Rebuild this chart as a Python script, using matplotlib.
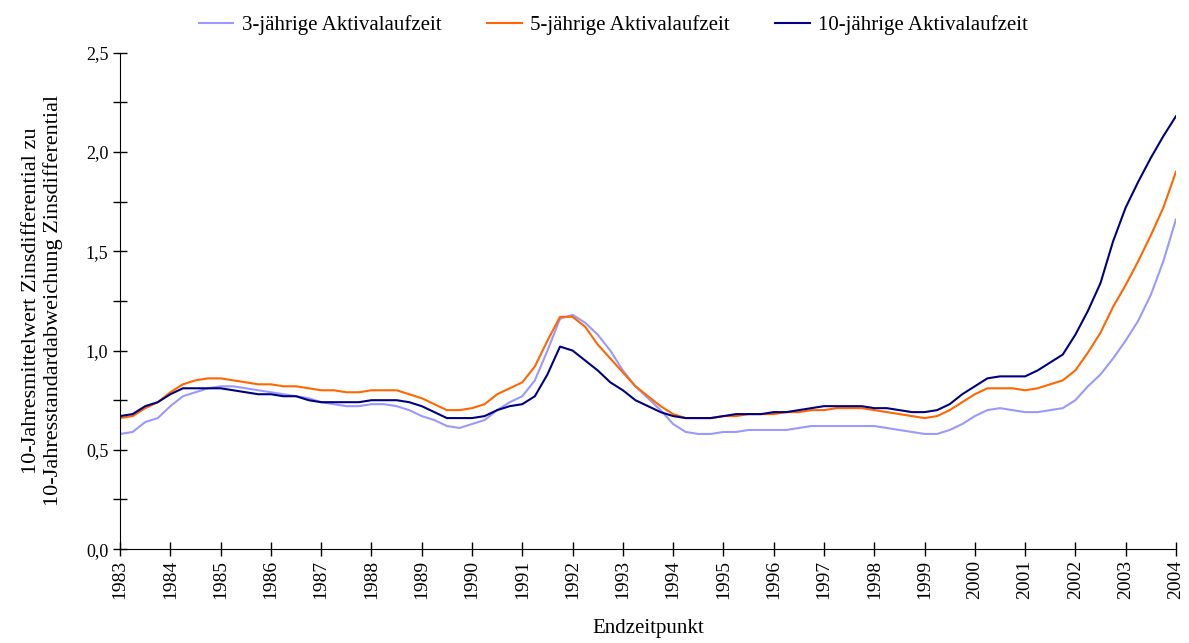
import numpy as np
import matplotlib.pyplot as plt
from matplotlib.ticker import MultipleLocator, FuncFormatter

plt.rcParams['font.family'] = ['Liberation Serif', 'DejaVu Serif']

# quarterly end points 1983.0 .. 2004.0
years = np.arange(1983, 2004.01, 0.25)

laufzeit_3 = [0.58, 0.59, 0.64, 0.66, 0.72, 0.77, 0.79, 0.81, 0.82, 0.82, 0.81, 0.80,
              0.79, 0.78, 0.77, 0.76, 0.74, 0.73, 0.72, 0.72, 0.73, 0.73, 0.72, 0.70,
              0.67, 0.65, 0.62, 0.61, 0.63, 0.65, 0.70, 0.74, 0.77, 0.85, 1.00, 1.16,
              1.18, 1.14, 1.08, 1.00, 0.90, 0.82, 0.76, 0.70, 0.63, 0.59, 0.58, 0.58,
              0.59, 0.59, 0.60, 0.60, 0.60, 0.60, 0.61, 0.62, 0.62, 0.62, 0.62, 0.62,
              0.62, 0.61, 0.60, 0.59, 0.58, 0.58, 0.60, 0.63, 0.67, 0.70, 0.71, 0.70,
              0.69, 0.69, 0.70, 0.71, 0.75, 0.82, 0.88, 0.96, 1.05, 1.15, 1.28, 1.45,
              1.66]

laufzeit_5 = [0.66, 0.67, 0.71, 0.74, 0.79, 0.83, 0.85, 0.86, 0.86, 0.85, 0.84, 0.83,
              0.83, 0.82, 0.82, 0.81, 0.80, 0.80, 0.79, 0.79, 0.80, 0.80, 0.80, 0.78,
              0.76, 0.73, 0.70, 0.70, 0.71, 0.73, 0.78, 0.81, 0.84, 0.92, 1.05, 1.17,
              1.17, 1.12, 1.03, 0.96, 0.89, 0.82, 0.77, 0.72, 0.68, 0.66, 0.66, 0.66,
              0.67, 0.67, 0.68, 0.68, 0.68, 0.69, 0.69, 0.70, 0.70, 0.71, 0.71, 0.71,
              0.70, 0.69, 0.68, 0.67, 0.66, 0.67, 0.70, 0.74, 0.78, 0.81, 0.81, 0.81,
              0.80, 0.81, 0.83, 0.85, 0.90, 0.99, 1.09, 1.22, 1.33, 1.45, 1.58, 1.72,
              1.90]

laufzeit_10 = [0.67, 0.68, 0.72, 0.74, 0.78, 0.81, 0.81, 0.81, 0.81, 0.80, 0.79, 0.78,
               0.78, 0.77, 0.77, 0.75, 0.74, 0.74, 0.74, 0.74, 0.75, 0.75, 0.75, 0.74,
               0.72, 0.69, 0.66, 0.66, 0.66, 0.67, 0.70, 0.72, 0.73, 0.77, 0.88, 1.02,
               1.00, 0.95, 0.90, 0.84, 0.80, 0.75, 0.72, 0.69, 0.67, 0.66, 0.66, 0.66,
               0.67, 0.68, 0.68, 0.68, 0.69, 0.69, 0.70, 0.71, 0.72, 0.72, 0.72, 0.72,
               0.71, 0.71, 0.70, 0.69, 0.69, 0.70, 0.73, 0.78, 0.82, 0.86, 0.87, 0.87,
               0.87, 0.90, 0.94, 0.98, 1.08, 1.20, 1.34, 1.55, 1.72, 1.85, 1.97, 2.08,
               2.18]

labels = ['3-jährige Aktivalaufzeit', '5-jährige Aktivalaufzeit', '10-jährige Aktivalaufzeit']
colors = ['#9999FF', '#FF6600', '#000080']

fig = plt.figure(figsize=(11.89, 6.43), dpi=100)
ax = fig.add_axes([0.101, 0.146, 0.888, 0.772])

for vals, lab, col in zip([laufzeit_3, laufzeit_5, laufzeit_10], labels, colors):
    ax.plot(years, vals, color=col, linewidth=1.5, label=lab)

ax.set_xlim(1983, 2004)
ax.set_ylim(0, 2.5)
ax.set_xticks(np.arange(1983, 2005))
ax.set_xticklabels([str(y) for y in range(1983, 2005)], rotation=90)
ax.yaxis.set_major_locator(MultipleLocator(0.5))
ax.yaxis.set_minor_locator(MultipleLocator(0.25))
ax.yaxis.set_major_formatter(FuncFormatter(lambda v, p: f'{v:.1f}'.replace('.', ',')))

ax.spines['top'].set_visible(False)
ax.spines['right'].set_visible(False)
ax.tick_params(axis='both', which='both', direction='inout', length=10, width=1)
ax.tick_params(axis='y', which='major', labelsize=13)
ax.tick_params(axis='x', which='major', labelsize=14, pad=3)

ax.set_ylabel('10-Jahresmittelwert Zinsdifferential zu\n10-Jahresstandardabweichung Zinsdifferential',
              fontsize=16, labelpad=16)
ax.set_xlabel('Endzeitpunkt', fontsize=15, labelpad=14)

fig.legend(loc='upper center', bbox_to_anchor=(0.516, 1.005), ncol=3, frameon=False,
           fontsize=15, handlelength=1.65, handletextpad=0.4, columnspacing=2.2)

fig.savefig('out.png', dpi=100)
